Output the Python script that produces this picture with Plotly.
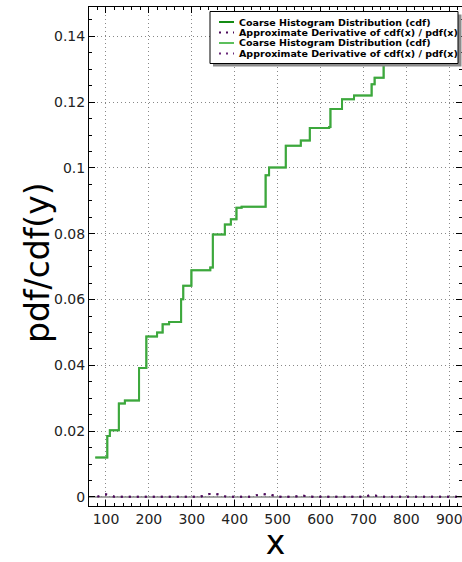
import plotly.graph_objects as go

# CDF step data (x where value starts, value)
cdf_x = [75, 103, 109, 130, 144, 177, 194, 219, 232, 247, 275, 280, 299, 343, 349,
         377, 391, 404, 416, 472, 480, 519, 554, 575, 620, 623, 650, 678, 719, 726,
         747, 770, 800, 880]
cdf_y = [0.0120, 0.0185, 0.0203, 0.0284, 0.0293, 0.0392, 0.0488, 0.0500, 0.0525, 0.0532,
         0.0601, 0.0642, 0.0689, 0.0697, 0.0798, 0.0828, 0.0844, 0.0879, 0.0882, 0.0978,
         0.1001, 0.1067, 0.1083, 0.1121, 0.1124, 0.1179, 0.1209, 0.1220, 0.1254, 0.1274,
         0.1340, 0.1400, 0.1440, 0.1440]

# Approximate derivative (pdf) data
pdf_x = [80, 100, 120, 140, 160, 180, 200, 220, 240, 260, 280, 300, 320, 340, 360,
         380, 400, 420, 440, 460, 480, 500, 520, 540, 560, 580, 600, 620, 640, 660,
         680, 700, 720, 740, 760, 780, 800, 820, 840, 860, 880, 900, 920]
pdf_y = [0.0001, 0.0008, 0.0001, 0.0001, 0.0001, 0.0001, 0.0001, 0.0001, 0.0001, 0.0001,
         0.0001, 0.0001, 0.0001, 0.0009, 0.0008, 0.0001, 0.0001, 0.0001, 0.0001, 0.0009,
         0.0008, 0.0001, 0.0001, 0.0001, 0.0004, 0.0001, 0.0001, 0.0001, 0.0001, 0.0001,
         0.0001, 0.0001, 0.0006, 0.0001, 0.0001, 0.0001, 0.0001, 0.0001, 0.0001, 0.0001,
         0.0001, 0.0001, 0.0001]

x_ticks = [100, 200, 300, 400, 500, 600, 700, 800, 900]
y_ticks = [0, 0.02, 0.04, 0.06, 0.08, 0.1, 0.12, 0.14]
y_tick_text = ["0", "0.02", "0.04", "0.06", "0.08", "0.1", "0.12", "0.14"]

cdf_name = "Coarse Histogram Distribution (cdf)"
pdf_name = "Approximate Derivative of cdf(x) / pdf(x)"
legend_names = [cdf_name, pdf_name, cdf_name, pdf_name]
legend_colors = ["#148c14", "#4b0a5a", "#5cbf5c", "#6a2a7a"]
legend_dash = ["solid", "2px,5px", "solid", "2px,5px"]

fig = go.Figure()
fig.add_trace(go.Scatter(x=cdf_x, y=cdf_y, mode="lines", line_shape="hv",
                         line=dict(color=legend_colors[0], width=2), name=cdf_name))
fig.add_trace(go.Scatter(x=pdf_x, y=pdf_y, mode="lines",
                         line=dict(color=legend_colors[1], width=2, dash="2px,6px"), name=pdf_name))
fig.add_trace(go.Scatter(x=cdf_x, y=cdf_y, mode="lines", line_shape="hv",
                         line=dict(color="rgba(92,191,92,0.55)", width=2), name=cdf_name))
fig.add_trace(go.Scatter(x=pdf_x, y=pdf_y, mode="lines",
                         line=dict(color="rgba(75,10,90,0.8)", width=2, dash="2px,6px"), name=pdf_name))

# zero reference line
fig.add_hline(y=0, line=dict(color="#888888", width=1.5), layer="below")

# ---- manual legend (matplotlib-like compact box with shadow) ----
def px_x(p):
    return (p - 89) / 373.0

def px_y(p):
    return (506 - p) / 499.0

fig.add_shape(type="rect", xref="paper", yref="paper",
              x0=px_x(213), x1=px_x(461.5), y0=px_y(66.5), y1=px_y(14.5),
              fillcolor="#8c8c8c", line=dict(width=0), layer="above")
fig.add_shape(type="rect", xref="paper", yref="paper",
              x0=px_x(210), x1=px_x(458), y0=px_y(63.5), y1=px_y(11.5),
              fillcolor="white", line=dict(color="black", width=1), layer="above")
rows = [22, 32.5, 43, 53.5]
for name, col, dash, ry in zip(legend_names, legend_colors, legend_dash, rows):
    fig.add_shape(type="line", xref="paper", yref="paper",
                  x0=px_x(219), x1=px_x(234), y0=px_y(ry), y1=px_y(ry),
                  line=dict(color=col, width=2, dash=dash), layer="above")
    fig.add_annotation(xref="paper", yref="paper", x=px_x(238), y=px_y(ry),
                       xanchor="left", yanchor="middle", showarrow=False, text=f"<b>{name}</b>",
                       borderpad=0, font=dict(family="DejaVu Sans", size=9.5, color="black"))

# y-axis title as rotated annotation (placed like the reference)
fig.add_annotation(xref="paper", yref="paper", x=px_x(37), y=px_y(262),
                   xanchor="center", yanchor="middle", showarrow=False, textangle=-90,
                   text="pdf/cdf(y)", font=dict(family="DejaVu Sans", size=33, color="black"))

axis_common = dict(
    showline=True, linecolor="black", linewidth=1, mirror="ticks",
    ticks="inside", ticklen=6, tickcolor="black", automargin=False,
    ticklabeloverflow="allow",
    showgrid=True, gridcolor="#888888", griddash="1px,3px", gridwidth=1,
    zeroline=False, tickfont=dict(family="DejaVu Sans", size=14, color="#222"),
)

fig.update_xaxes(range=[60.4, 929.6], tickvals=x_ticks,
                 minor=dict(dtick=20, tick0=0, ticks="inside", ticklen=3, tickcolor="black", showgrid=False),
                 title=dict(text="x", font=dict(family="DejaVu Sans", size=33, color="black"), standoff=6),
                 **axis_common)
fig.update_yaxes(range=[-0.00274, 0.1489], tickvals=y_ticks, ticktext=y_tick_text,
                 minor=dict(dtick=0.005, tick0=0, ticks="inside", ticklen=3, tickcolor="black", showgrid=False),
                 **axis_common)

fig.update_layout(
    width=462, height=562,
    margin=dict(l=89, r=0, t=7, b=56),
    plot_bgcolor="white", paper_bgcolor="white",
    showlegend=False,
)

fig.write_html("out.html", config={"displayModeBar": False},
               post_script="document.body.style.margin='0';")
